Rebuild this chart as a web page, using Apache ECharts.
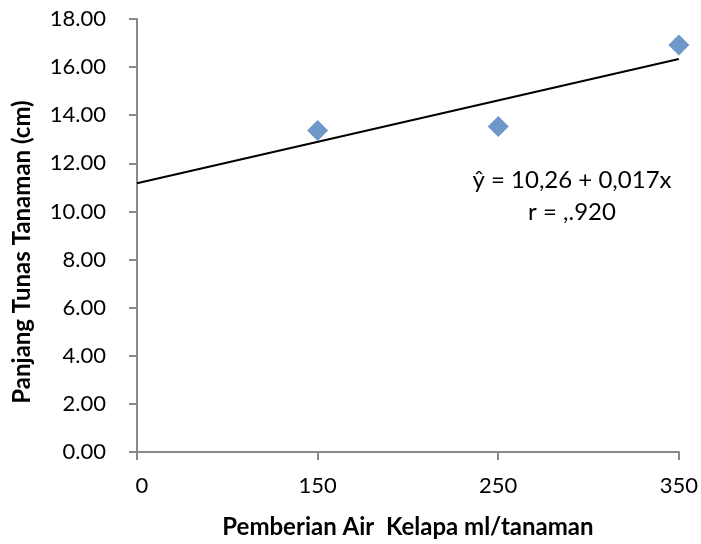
<!DOCTYPE html>
<html>
<head>
<meta charset="utf-8">
<script src="https://cdn.jsdelivr.net/npm/echarts@6/dist/echarts.min.js"></script>
<style>
  html, body { margin: 0; padding: 0; background: #fff; }
  #chart { width: 701px; height: 544px; }
</style>
</head>
<body>
<div id="chart"></div>
<script>
// data
var categories = ['0', '150', '250', '350'];
var panjang = [null, 13.36, 13.53, 16.92];
var trendLine = [11.17, null, null, 16.34];   // Excel trendline ends
var eqText = 'ŷ = 10,26 + 0,017x';
var rText = 'r = ,.920';
var yTitle = 'Panjang Tunas Tanaman (cm)';
var xTitle = 'Pemberian Air  Kelapa ml/tanaman';

var font = 'Lato';
var axisGray = '#898989';

var chart = echarts.init(document.getElementById('chart'));
var option = {
    backgroundColor: '#fff',
    animation: false,
    textStyle: { fontFamily: font },
    grid: { left: 137, right: 22, top: 19, bottom: 90 },
    xAxis: {
        type: 'category',
        data: categories,
        boundaryGap: false,
        name: xTitle,
        nameLocation: 'middle',
        nameGap: 63,
        nameTextStyle: { fontFamily: font, fontSize: 24, fontWeight: 'bold', color: '#000' },
        axisLine: { lineStyle: { color: axisGray, width: 2 } },
        axisTick: { show: true, length: 8, lineStyle: { color: axisGray, width: 2 } },
        axisLabel: {
            color: '#000', fontSize: 22, margin: 23, fontFamily: font,
            formatter: function (v, i) { return i === 0 ? '{first|' + v + '}' : v; },
            rich: { first: { fontSize: 22, fontFamily: font, color: '#000', padding: [0, 0, 0, 10] } }
        },
        splitLine: { show: false }
    },
    yAxis: {
        type: 'value',
        min: 0,
        max: 18,
        interval: 2,
        axisLine: { show: true, lineStyle: { color: axisGray, width: 2 } },
        axisTick: { show: true, length: 8, lineStyle: { color: axisGray, width: 2 } },
        axisLabel: {
            color: '#000', fontSize: 22, margin: 31, fontFamily: font,
            formatter: function (v) { return v.toFixed(2); }
        },
        splitLine: { show: false }
    },
    series: [
        {
            name: 'trend',
            type: 'line',
            data: trendLine,
            connectNulls: true,
            showSymbol: false,
            symbol: 'none',
            lineStyle: { color: '#000', width: 2 },
            z: 2
        },
        {
            name: 'Panjang',
            type: 'scatter',
            data: panjang,
            symbol: 'diamond',
            symbolSize: 21,
            itemStyle: { color: '#4A7EBB' },
            z: 3
        }
    ],
    graphic: [
        {
            type: 'text',
            x: 22, y: 252,
            rotation: Math.PI / 2,
            style: { text: yTitle, align: 'center', verticalAlign: 'middle',
                     fontFamily: font, fontSize: 24, fontWeight: 'bold', fill: '#000' }
        },
        {
            type: 'text',
            x: 572, y: 180,
            style: { text: eqText, align: 'center', verticalAlign: 'middle',
                     fontFamily: font, fontSize: 24, fill: '#000' }
        },
        {
            type: 'text',
            x: 572, y: 212,
            style: { text: rText, align: 'center', verticalAlign: 'middle',
                     fontFamily: font, fontSize: 24, fill: '#000' }
        }
    ]
};
chart.setOption(option);
</script>
</body>
</html>
